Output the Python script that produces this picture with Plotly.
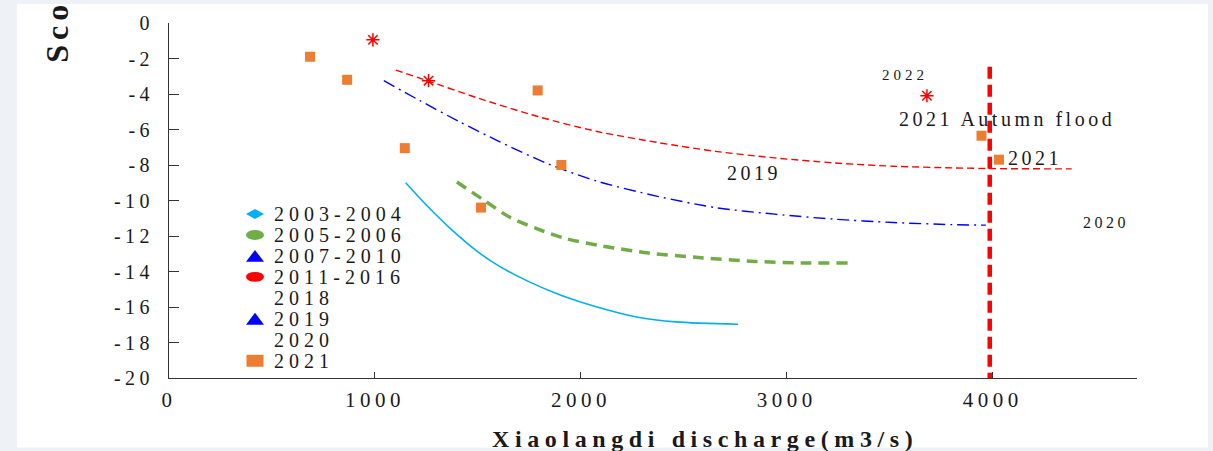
import plotly.graph_objects as go

# ---------------- data ----------------
x_ticks = [0, 1000, 2000, 3000, 4000]
y_ticks = [0, -2, -4, -6, -8, -10, -12, -14, -16, -18, -20]

# 2021 observed points (orange squares)
pts2021_x = [685, 865, 1145, 1515, 1790, 1905, 3945, 4030]
pts2021_y = [-1.9, -3.2, -7.05, -10.4, -3.8, -8.0, -6.35, -7.7]

# 2022 observed points (red asterisks)
pts2022_x = [990, 1260, 3680]
pts2022_y = [-0.95, -3.25, -4.1]

# trend curves
c0304_x = [1149, 1254, 1369, 1503, 1599, 1752, 1906, 2078, 2270, 2462, 2763]
c0304_y = [-9.0, -10.31, -11.61, -12.92, -13.67, -14.6, -15.35, -16.0, -16.56, -16.84, -16.97]

c0506_x = [1398, 1522, 1657, 1791, 1925, 2098, 2328, 2557, 2845, 3094, 3295]
c0506_y = [-8.96, -9.93, -10.96, -11.61, -12.14, -12.55, -12.96, -13.2, -13.43, -13.52, -13.52]

c0710_x = [1043, 1216, 1408, 1599, 1829, 2078, 2366, 2653, 2941, 3228, 3516, 3803, 3966]
c0710_y = [-3.25, -4.36, -5.55, -6.65, -7.88, -8.91, -9.75, -10.4, -10.77, -11.05, -11.24, -11.36, -11.39]

c1116_x = [1101, 1254, 1503, 1791, 2078, 2366, 2653, 2941, 3228, 3516, 3803, 3985, 4383]
c1116_y = [-2.65, -3.25, -4.24, -5.27, -6.11, -6.72, -7.23, -7.6, -7.88, -8.07, -8.16, -8.2, -8.22]

# 4000 m3/s reference line
vline_x = [3985, 3985]
vline_y = [-2.46, -20]

# legend
legend_labels = ["2003-2004", "2005-2006", "2007-2010", "2011-2016",
                 "2018", "2019", "2020", "2021"]
legend_symbols = ["diamond", "circle", "triangle", "circle",
                  None, "triangle", None, "square"]
legend_colors = ["#00B0F0", "#70AD47", "#0000FF", "#FF0000",
                 None, "#0000FF", None, "#ED7D31"]

# text labels in the plot
note_texts = ["2022", "2021 Autumn flood", "2021", "2019", "2020"]
note_x = [3573, 4068, 4204, 2840, 4549]
note_y = [-2.91, -5.43, -7.62, -8.46, -11.26]
note_sizes = [15, 20, 20, 20, 16]

x_title = "Xiaolangdi discharge(m3/s)"
y_title = "Scour depth(m)"

# ---------------- layout geometry ----------------
W, H = 1213, 451
L, R, T, B = 169, 76, 21, 73
X_MAX = 4700
PW, PH = W - L - R, H - T - B
FONT = "Liberation Serif"
TXT = "#1a1a1a"


def px2paper_x(px):
    return (px - L) / PW


def py2paper_y(py):
    return (H - B - py) / PH


def spaced(text, sp):
    return '<span style="letter-spacing:%spx">%s</span>' % (sp, text)


fig = go.Figure()

fig.add_trace(go.Scatter(x=c0304_x, y=c0304_y, mode="lines",
                         line=dict(color="#00B0F0", width=1.6, shape="spline",
                                   smoothing=0.8),
                         showlegend=False, hoverinfo="skip"))
fig.add_trace(go.Scatter(x=c0506_x, y=c0506_y, mode="lines",
                         line=dict(color="#70AD47", width=3.5, shape="spline",
                                   smoothing=0.8, dash="11px,7px"),
                         showlegend=False, hoverinfo="skip"))
fig.add_trace(go.Scatter(x=c0710_x, y=c0710_y, mode="lines",
                         line=dict(color="#0000FF", width=1.4, shape="spline",
                                   smoothing=0.8, dash="12px,5px,2px,5px"),
                         showlegend=False, hoverinfo="skip"))
fig.add_trace(go.Scatter(x=c1116_x, y=c1116_y, mode="lines",
                         line=dict(color="#FF0000", width=1.4, shape="spline",
                                   smoothing=0.8, dash="7px,4px"),
                         showlegend=False, hoverinfo="skip"))
fig.add_trace(go.Scatter(x=vline_x, y=vline_y, mode="lines",
                         line=dict(color="#FF0000", width=4.5, dash="12px,6px"),
                         showlegend=False, hoverinfo="skip"))
fig.add_trace(go.Scatter(x=pts2021_x, y=pts2021_y, mode="markers",
                         marker=dict(symbol="square", size=10, color="#ED7D31"),
                         showlegend=False))
fig.add_trace(go.Scatter(x=pts2022_x, y=pts2022_y, mode="markers",
                         marker=dict(symbol="asterisk-open", size=11, color="#FF0000",
                                     line=dict(color="#FF0000", width=1.5)),
                         showlegend=False))

annotations = []
shapes = []

# white panel behind the chart
shapes.append(dict(type="rect", xref="paper", yref="paper", layer="below",
                   x0=px2paper_x(17), x1=px2paper_x(1208),
                   y0=py2paper_y(448), y1=py2paper_y(2),
                   fillcolor="white", line=dict(width=0)))

# manual legend
LEG_X, LEG_TX, LEG_Y0, LEG_DY = 255, 272, 213, 21.1
for i, (lab, sym, col) in enumerate(zip(legend_labels, legend_symbols, legend_colors)):
    cy = LEG_Y0 + i * LEG_DY
    annotations.append(dict(xref="paper", yref="paper",
                            x=px2paper_x(LEG_TX), y=py2paper_y(cy),
                            xanchor="left", yanchor="middle", showarrow=False,
                            text=spaced(lab, 5),
                            font=dict(family=FONT, size=20, color=TXT)))
    if sym is None:
        continue
    hw = 9
    if sym == "circle":
        shapes.append(dict(type="circle", xref="paper", yref="paper",
                           x0=px2paper_x(LEG_X - hw), x1=px2paper_x(LEG_X + hw),
                           y0=py2paper_y(cy + 5), y1=py2paper_y(cy - 5),
                           fillcolor=col, line=dict(width=0)))
    elif sym == "square":
        shapes.append(dict(type="rect", xref="paper", yref="paper",
                           x0=px2paper_x(LEG_X - 8.5), x1=px2paper_x(LEG_X + 8.5),
                           y0=py2paper_y(cy + 6), y1=py2paper_y(cy - 6),
                           fillcolor=col, line=dict(width=0)))
    else:
        if sym == "triangle":
            pts = [(LEG_X, cy - 6), (LEG_X + hw, cy + 6), (LEG_X - hw, cy + 6)]
        else:
            pts = [(LEG_X, cy - 5), (LEG_X + hw, cy), (LEG_X, cy + 5), (LEG_X - hw, cy)]
        path = "M " + " L ".join("%f,%f" % (px2paper_x(a), py2paper_y(b)) for a, b in pts) + " Z"
        shapes.append(dict(type="path", xref="paper", yref="paper", path=path,
                           fillcolor=col, line=dict(width=0)))

# in-plot labels
for t, x, y, s in zip(note_texts, note_x, note_y, note_sizes):
    annotations.append(dict(x=x, y=y, xref="x", yref="y", showarrow=False,
                            xanchor="center", yanchor="middle",
                            text=spaced(t, 3.5 if s > 15 else 4),
                            font=dict(family=FONT, size=s, color=TXT)))

# axis titles
annotations.append(dict(xref="paper", yref="paper", x=px2paper_x(705),
                        y=py2paper_y(439), xanchor="center", yanchor="middle",
                        showarrow=False, text="<b>" + spaced(x_title, 5.6) + "</b>",
                        font=dict(family=FONT, size=24, color=TXT)))
annotations.append(dict(xref="paper", yref="paper", x=px2paper_x(57),
                        y=py2paper_y(63), xanchor="center", yanchor="bottom",
                        textangle=-90, showarrow=False,
                        text="<b>" + spaced(y_title, 5) + "</b>",
                        font=dict(family=FONT, size=32, color=TXT)))

fig.update_layout(
    width=W, height=H,
    margin=dict(l=L, r=R, t=T, b=B, pad=0),
    paper_bgcolor="#eef2f6",
    plot_bgcolor="white",
    showlegend=False,
    shapes=shapes,
    annotations=annotations,
    xaxis=dict(range=[0, X_MAX], showgrid=False, zeroline=False,
               showline=True, linecolor="#333333", linewidth=1.3,
               ticks="inside", ticklen=6, tickcolor="#333333", tickwidth=1,
               tickvals=x_ticks, ticktext=[spaced(str(v), 4.5) for v in x_ticks],
               tickfont=dict(family=FONT, size=21, color=TXT),
               ticklabelstandoff=3),
    yaxis=dict(range=[-20, 0], showgrid=False, zeroline=False,
               showline=True, linecolor="#333333", linewidth=1.3,
               ticks="inside", ticklen=10, tickcolor="#333333", tickwidth=1,
               tickvals=y_ticks, ticktext=[spaced(str(v), 4.4) for v in y_ticks],
               tickfont=dict(family=FONT, size=20, color=TXT),
               ticklabelstandoff=10),
)

fig.write_html("out.html")
